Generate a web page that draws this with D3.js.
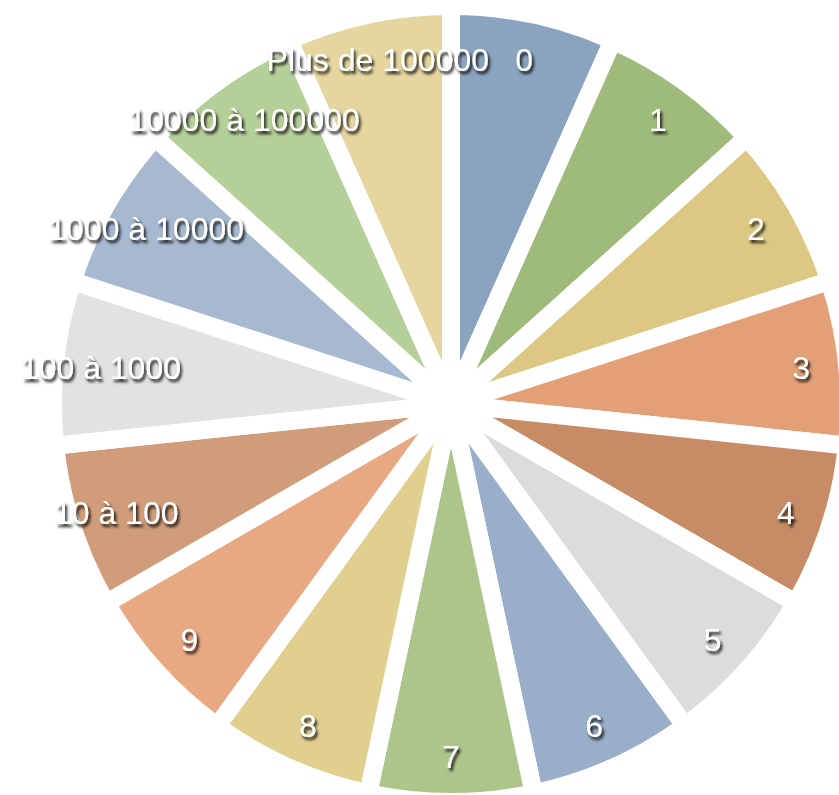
<!DOCTYPE html>
<html>
<head>
<meta charset="utf-8">
<script src="https://cdn.jsdelivr.net/npm/d3@7"></script>
<style>
  body { margin: 0; background: #fff; }
  text { font-family: "Liberation Sans", Arial, sans-serif; }
</style>
</head>
<body>
<svg id="pie" width="839" height="795"></svg>
<script>
// categories, clockwise from 12 o'clock
var categories = ["0", "1", "2", "3", "4", "5", "6", "7", "8", "9",
    "10 à 100", "100 à 1000", "1000 à 10000", "10000 à 100000", "Plus de 100000"];
var values = [1, 1, 1, 1, 1, 1, 1, 1, 1, 1, 1, 1, 1, 1, 1];
var colors = ["#8aa3be", "#9fbb7b", "#dcc882", "#e3a077", "#c78b66",
    "#dcdcdc", "#99aec8", "#abc58a", "#e1cf90", "#e8a882",
    "#d09c79", "#e2e2e2", "#a6b9d0", "#b5cf98", "#e5d59e"];

var svg = d3.select("#pie"),
        cx = 451,
        cy = 404,
        radius = 398,
        labelRadius = 352;

var defs = svg.append("defs");
var shadow = defs.append("filter")
        .attr("id", "shadow")
        .attr("x", "-20%").attr("y", "-40%")
        .attr("width", "140%").attr("height", "180%");
shadow.append("feDropShadow")
        .attr("dx", 2)
        .attr("dy", 3)
        .attr("stdDeviation", 1.6)
        .attr("flood-color", "#000")
        .attr("flood-opacity", 0.9);

var rows = categories.map(function (c, i) {
    return {name: c, value: values[i], color: colors[i]};
});

var pie = d3.pie()
        .sort(null)
        .value(function (d) { return d.value; });

var arc = d3.arc()
        .innerRadius(0)
        .outerRadius(radius);

var labelArc = d3.arc()
        .innerRadius(labelRadius)
        .outerRadius(labelRadius);

var g = svg.append("g")
        .attr("transform", "translate(" + cx + "," + cy + ")");

var arcs = pie(rows);

g.selectAll("path")
        .data(arcs)
        .enter().append("path")
        .attr("d", arc)
        .attr("fill", function (d) { return d.data.color; })
        .attr("stroke", "#fff")
        .attr("stroke-width", 18)
        .attr("stroke-linejoin", "miter");

g.selectAll("text")
        .data(arcs)
        .enter().append("text")
        .attr("transform", function (d) {
            return "translate(" + labelArc.centroid(d) + ")";
        })
        .attr("dy", "0.36em")
        .attr("text-anchor", "middle")
        .attr("font-size", 32)
        .attr("fill", "#fff")
        .attr("filter", "url(#shadow)")
        .text(function (d) { return d.data.name; });
</script>
</body>
</html>
